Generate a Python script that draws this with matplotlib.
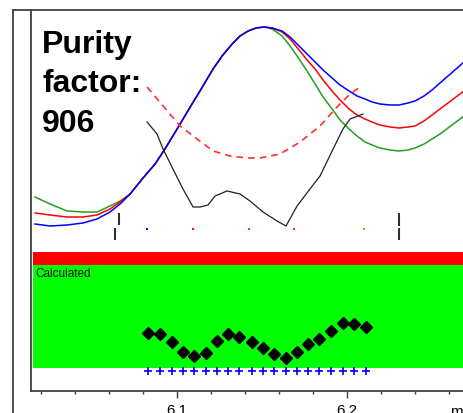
import matplotlib
matplotlib.use("Agg")
import matplotlib.pyplot as plt
from matplotlib.lines import Line2D

plt.rcParams['font.family'] = ['Liberation Sans', 'DejaVu Sans']

# time grid for the three overlaid traces (min)
t_trace = [6.0165, 6.0253, 6.0353, 6.0447, 6.0529, 6.0606, 6.0665,
           6.0724, 6.0800, 6.0871, 6.0929, 6.1018, 6.1088, 6.1135, 6.1212, 6.1265, 6.1324,
           6.1371, 6.1418, 6.1465, 6.1512,
           6.1559, 6.1618, 6.1665, 6.1718, 6.1765, 6.1812, 6.1859, 6.1912, 6.1959, 6.2012,
           6.2059, 6.2106, 6.2147, 6.2194, 6.2253, 6.2306, 6.2359, 6.2400, 6.2453, 6.2500,
           6.2547, 6.2594, 6.2641, 6.2688]
# the three traces coincide on the rising edge
rise = [197, 213, 227, 242, 267, 287, 300, 322, 335, 347, 355, 360, 363, 364]
green_trace = ([194, 187, 180, 179, 179, 185, 190] + rise +
               [362, 355, 345, 332, 320, 307, 294, 282, 271, 262, 255, 249, 246, 243, 241, 240,
                241, 243, 247, 252, 257, 263, 269, 275])
red_trace = ([178, 176, 174, 174, 176, 182, 189] + rise +
             [363, 359, 352, 341, 331, 322, 311, 300, 291, 282, 276, 272, 269, 266, 264, 263,
              264, 265, 270, 276, 282, 288, 294, 300])
blue_trace = ([167, 165, 166, 168, 172, 179, 187] + rise +
              [363, 360, 354, 345, 337, 329, 321, 313, 306, 300, 295, 292, 289, 287, 286, 286,
               288, 290, 295, 301, 308, 315, 322, 329])

# threshold curve (dashed) and similarity curve
t_thresh = [6.0824, 6.0918, 6.1018, 6.1118, 6.1212, 6.1312, 6.1412, 6.1488, 6.1606,
            6.1724, 6.1841, 6.1941, 6.2018, 6.2076]
thresh = [304, 285, 265, 252, 240, 235, 233, 233, 237, 249, 265, 284, 297, 304]
t_sim = [6.0824, 6.0882, 6.0918, 6.0976, 6.1035, 6.1094, 6.1135, 6.1182, 6.1224, 6.1294,
         6.1371, 6.1429, 6.1506, 6.1588, 6.1641, 6.1706, 6.1782, 6.1841, 6.1918, 6.1976,
         6.2018, 6.2094]
sim = [269, 257, 242, 222, 202, 184, 184, 186, 195, 200, 197, 190, 179, 170, 165, 185,
       202, 215, 242, 262, 272, 277]

# peak limits and spectrum positions
t_start = [6.0659, 6.0635]
t_end = 6.2306
t_spec = [6.0824, 6.1094, 6.1424, 6.1688, 6.2100]
spec_colors = ['#0000ff', '#ff0000', '#00c000', '#ff00ff', '#a0a000']

# purity points
t_pur = [6.0829, 6.0900, 6.0971, 6.1035, 6.1100, 6.1171, 6.1235, 6.1300, 6.1365, 6.1441,
         6.1506, 6.1571, 6.1641, 6.1706, 6.1771, 6.1835, 6.1906, 6.1976, 6.2041, 6.2112]
purity = [58, 57, 49, 39, 35, 38, 50, 57, 54, 49, 43, 37, 33, 39, 47, 52, 60, 68, 67, 64]

title_lines = ["Purity", "factor:", "906"]

fig = plt.figure(figsize=(4.64, 4.14), dpi=100)
ax = fig.add_axes([31 / 464, 22 / 414, 433 / 464, 381 / 414])
ax.set_xlim(6.0141, 6.2688)
ax.set_ylim(0, 381)

# lower band
ax.axhspan(126, 139, xmin=0.004, xmax=1, color='#ff0000', lw=0)
ax.axhspan(23, 126, xmin=0.004, xmax=1, color='#00ff00', lw=0)
ax.text(6.0165, 118, "Calculated", fontsize=8.5, va='center', ha='left', color='#101010')
ax.plot(t_pur, purity, 'D', color='black', ms=6.5, mec='black')
ax.plot(t_pur, [20] * len(t_pur), '+', color='#0000ff', ms=5.5, mew=1.2)

# traces
ax.plot(t_trace, green_trace, color='#22a022', lw=1.1)
ax.plot(t_trace, red_trace, color='#ff0000', lw=1.1)
ax.plot(t_trace, blue_trace, color='#0000ff', lw=1.1)
ax.plot(t_thresh, thresh, color='#ff3030', lw=1.2, ls=(0, (4, 3)))
ax.plot(t_sim, sim, color='#202020', lw=0.9)

ax.vlines(t_start, [166, 151], [178, 163], color='#303030', lw=1.5)
ax.vlines([t_end, t_end], [165, 151], [178, 163], color='#303030', lw=1.5)
for t, c in zip(t_spec, spec_colors):
    ax.plot(t, 162, 's', color=c, ms=1.5, mew=0)

for i, s in enumerate(title_lines):
    ax.text(6.0206, 339 - 39.5 * i, s, fontsize=23, fontweight='bold', va='baseline', ha='left')

# axes styling
for side in ['left', 'top', 'bottom']:
    ax.spines[side].set_color('#404040')
    ax.spines[side].set_linewidth(1.3)
ax.spines['right'].set_visible(False)
ax.set_yticks([])
ax.set_xticks([6.1, 6.2])
ax.set_xticklabels(['6.1', '6.2'])
ax.set_xticks([6.02 + 0.02 * i for i in range(13)], minor=True)
ax.tick_params(axis='x', which='major', length=5, width=1, direction='out', labelsize=11, pad=3.5, color='#404040')
ax.tick_params(axis='x', which='minor', length=2.5, width=1, direction='out', color='#404040')
ax.text(6.2606, -0.033, "min", transform=ax.get_xaxis_transform(), fontsize=11, va='top', ha='left')

# outer frame
fig.add_artist(Line2D([13 / 464, 13 / 464], [0, 403 / 414], color='#404040', lw=1.3))
fig.add_artist(Line2D([13 / 464, 31 / 464], [403 / 414, 403 / 414], color='#404040', lw=1.3))

fig.savefig('out.png', dpi=100)
